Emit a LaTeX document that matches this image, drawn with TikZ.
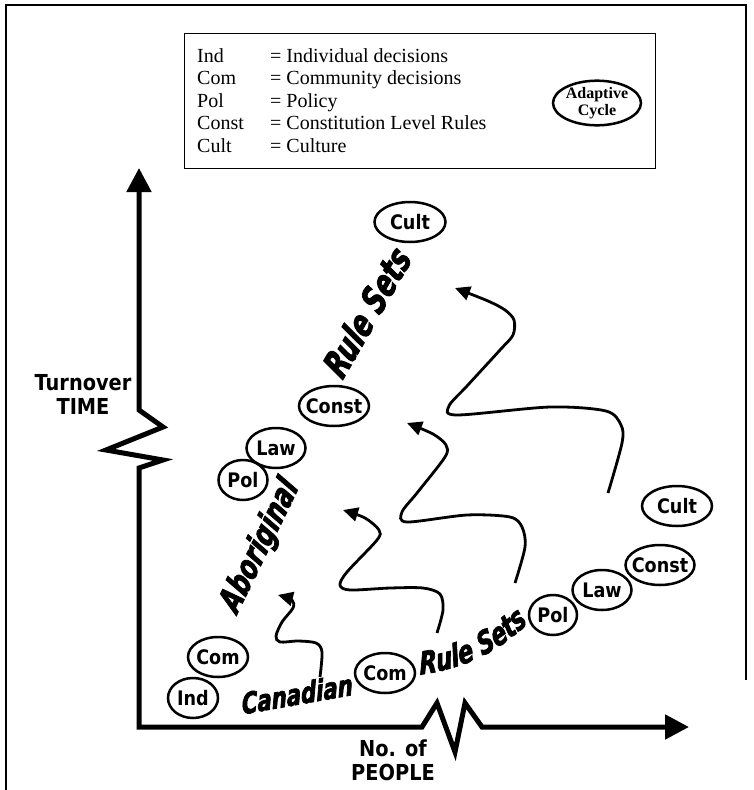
\documentclass[tikz,border=0pt]{standalone}
\usepackage{fontspec}
\setmainfont{Liberation Serif}
\newfontfamily\lblfont{DejaVu Sans}[FakeStretch=0.88]
\newfontfamily\heavyfont{DejaVu Sans}[FakeStretch=0.74,FakeBold=2.4,FakeSlant=0.12]
\usetikzlibrary{shapes.geometric,arrows.meta,decorations.text}
\newcommand{\rlab}[1]{\makebox[0pt]{#1}}
\begin{document}
\begin{tikzpicture}[x=1pt,y=-1pt,
  rs/.style={ellipse, draw, line width=2.5pt, inner sep=0pt, minimum height=40pt, font=\lblfont\bfseries\fontsize{20}{20}\selectfont},
  ax/.style={line width=5pt, line join=miter},
  wave/.style={line width=2.8pt, -{Triangle[length=15pt,width=14pt]}},
  leg/.style={anchor=base west, inner sep=0pt, font=\fontsize{20}{22}\selectfont},
  axlabel/.style={align=center, font=\lblfont\bfseries\fontsize{22}{24}\selectfont},
  setlabel/.style={inner sep=0pt, font=\heavyfont\bfseries\itshape\fontsize{#1}{#1}\selectfont}]
\useasboundingbox (0,0) rectangle (753,790);
\draw[line width=1.3pt] (6,790) -- (6,5) -- (746,5) -- (746,680);
\draw[line width=0.9pt] (184,33) rectangle (655,168);
\node[leg] (k1) at (197,62) {Ind};
\node[leg] (v1) at (270,62) {= Individual decisions};
\node[leg] (k2) at (197,84.5) {Com};
\node[leg] (v2) at (270,84.5) {= Community decisions};
\node[leg] (k3) at (197,107) {Pol};
\node[leg] (v3) at (270,107) {= Policy};
\node[leg] (k4) at (197,129.5) {Const};
\node[leg] (v4) at (270,129.5) {= Constitution Level Rules};
\node[leg] (k5) at (197,152) {Cult};
\node[leg] (v5) at (270,152) {= Culture};
\node[ellipse, draw, line width=2.5pt, inner sep=0pt, align=center, font=\bfseries\fontsize{16}{17}\selectfont] (cyc) at (597,103) {Adaptive\\Cycle};
\coordinate (ytip) at (139,168);
\coordinate (orig) at (139,727);
\coordinate (xtip) at (689,727);
\draw[ax, {Triangle[length=24pt,width=24pt]}-{Triangle[length=24pt,width=24pt]}] (ytip) -- (139,410) -- (163,427) -- (106,450) -- (163,460) -- (139,468) -- (orig) -- (422,727) -- (437,703) -- (455,752) -- (465,703) -- (482,727) -- (xtip);
\node[axlabel] (ttime) at (83,394) {Turnover\\TIME};
\node[axlabel] (npeople) at (393,760) {No. of\\PEOPLE};
\node[rs, minimum width=50pt] (ind) at (193,698) {\rlab{Ind}};
\node[rs, minimum width=60pt] (com1) at (218,657) {\rlab{Com}};
\node[rs, minimum width=49pt] (pol1) at (243,480) {\rlab{Pol}};
\node[rs, minimum width=59pt] (law1) at (276,448) {\rlab{Law}};
\node[rs, minimum width=70pt] (const1) at (334,406) {\rlab{Const}};
\node[rs, minimum width=71pt] (cult1) at (410,222) {\rlab{Cult}};
\node[rs, minimum width=60pt] (com2) at (385,673) {\rlab{Com}};
\node[rs, minimum width=48pt] (pol2) at (553,615) {\rlab{Pol}};
\node[rs, minimum width=59pt] (law2) at (602,590) {\rlab{Law}};
\node[rs, minimum width=69pt] (const2) at (660,565) {\rlab{Const}};
\node[rs, minimum width=70pt] (cult2) at (677,506) {\rlab{Cult}};
\node[setlabel=29, rotate=10] (cana) at (296,694) {Canadian};
\coordinate (rsa) at (416,675);
\coordinate (rsb) at (531,620);
\path[decorate, decoration={text along path, text align=center, text={|\heavyfont\bfseries\itshape\fontsize{31}{31}\selectfont|Rule Sets}}] (rsa) .. controls (462,670) and (500,652) .. (rsb);
\node[setlabel=36, rotate=60] (rstop) at (366,313) {Rule Sets};
\node[setlabel=33, rotate=64] (abor) at (260,547) {Aboriginal};
\coordinate (w1s) at (320,677);
\coordinate (w1e) at (278,595);
\coordinate (w2s) at (437,633);
\coordinate (w2e) at (343,510);
\coordinate (w3s) at (515,583);
\coordinate (w3e) at (407,423);
\coordinate (w4s) at (608,493);
\coordinate (w4e) at (455,288);
\draw[wave] plot[smooth, tension=0.5] coordinates {(w1s) (322,652) (316,643) (298,641) (280,642) (276,636) (282,622) (293,608) (292,600) (w1e)};
\draw[wave] plot[smooth, tension=0.5] coordinates {(w2s) (443,610) (440,594) (423,588) (390,588) (350,590) (340,585) (347,572) (377,540) (379,530) (365,518) (w2e)};
\draw[wave] plot[smooth, tension=0.5] coordinates {(w3s) (525,547) (522,527) (510,517) (467,515) (407,522) (402,512) (417,493) (445,457) (446,445) (433,434) (w3e)};
\draw[wave] plot[smooth, tension=0.5] coordinates {(w4s) (622,443) (621,425) (606,411) (550,407) (457,415) (449,406) (467,386) (500,350) (513,335) (514,320) (505,310) (488,301) (w4e)};
\end{tikzpicture}
\end{document}
